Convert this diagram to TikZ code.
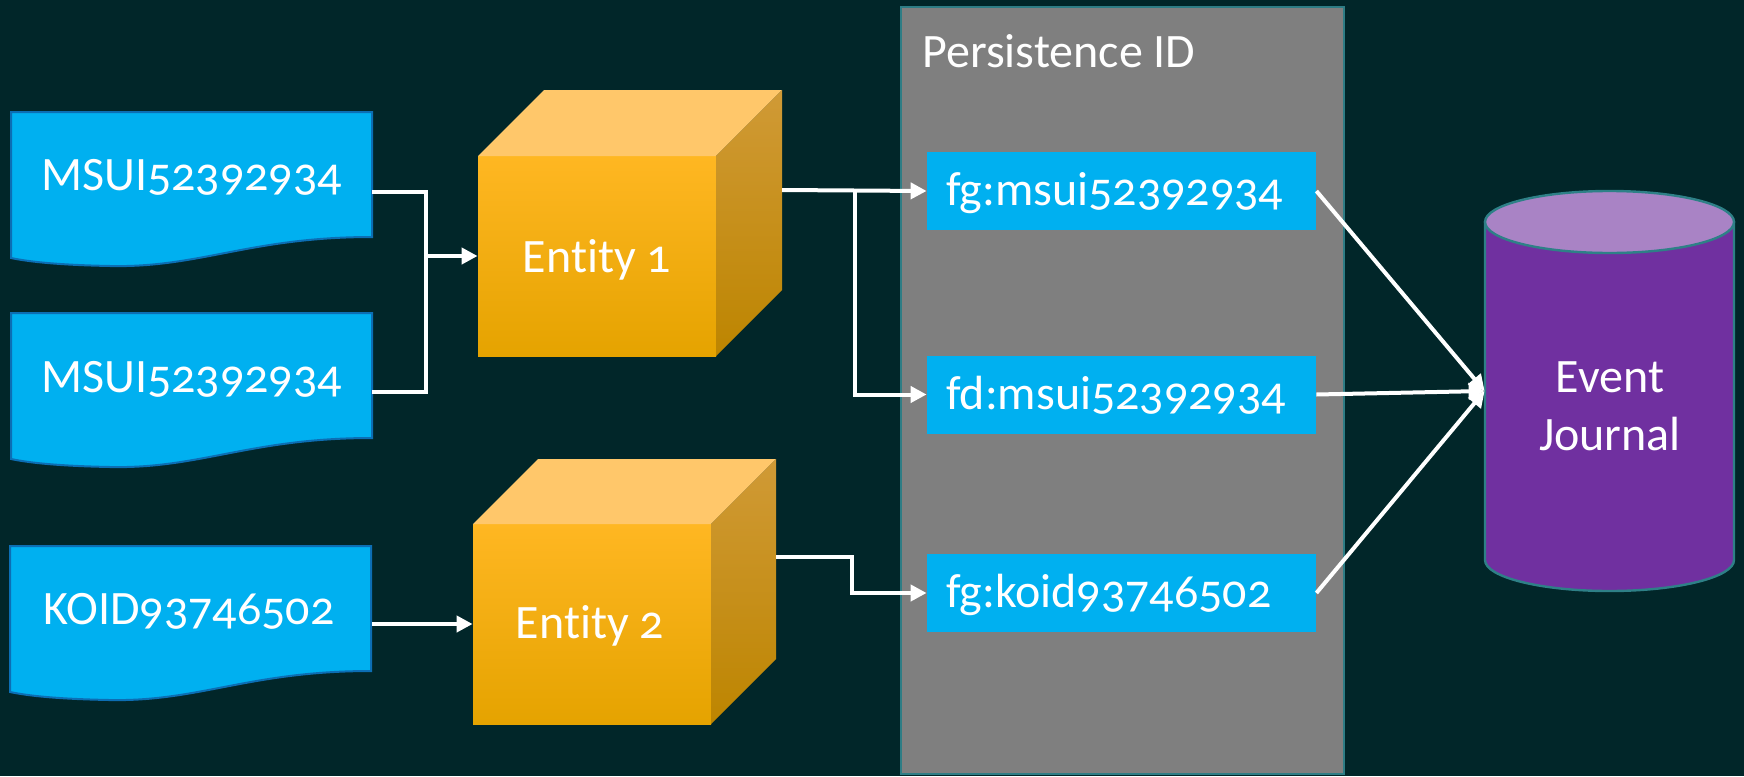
\documentclass[tikz,border=0pt]{standalone}
\usepackage{fontspec}
\setmainfont[Numbers=OldStyle,Ligatures=NoCommon]{Carlito}
\usetikzlibrary{arrows.meta,calc}
\definecolor{bg}{RGB}{1,38,41}
\definecolor{docblue}{RGB}{0,176,240}
\definecolor{docedge}{RGB}{12,110,180}
\definecolor{grp}{RGB}{127,127,127}
\definecolor{grpedge}{RGB}{46,125,133}
\definecolor{cubeA}{RGB}{255,183,34}
\definecolor{cubeB}{RGB}{229,163,0}
\definecolor{cubetop}{RGB}{255,199,106}
\definecolor{cubesideA}{RGB}{208,154,54}
\definecolor{cubesideB}{RGB}{189,133,0}
\definecolor{cylbody}{RGB}{112,48,160}
\definecolor{cyltop}{RGB}{169,131,197}
\definecolor{cyledge}{RGB}{46,128,135}
\newcommand\mydoc[2]{%
  \begin{scope}[shift={(#1,#2)}]
    \path[docshape] (0,0) -- (361,0) -- (361,125)
      .. controls (239,125) and (189,156) .. (99,154)
      .. controls (49,153) and (19,150) .. (0,146) -- cycle;
  \end{scope}}
\newcommand\mycube[5]{% x0 y0 w h d
  \path[shading=axis, top color=cubeA, bottom color=cubeB]
    (#1,#2) rectangle ++(#3,#4);
  \path[fill=cubetop] (#1,#2) -- ++(#5,-#5) -- ++(#3,0) -- ++(-#5,#5) -- cycle;
  \path[shading=axis, top color=cubesideA, bottom color=cubesideB]
    ($(#1,#2)+(#3,0)$) -- ++(#5,-#5) -- ++(0,#4) -- ++(-#5,#5) -- cycle;}
\begin{document}
\begin{tikzpicture}[x=0.5pt,y=-0.5pt,
  docshape/.style={fill=docblue, draw=docedge, line width=1pt},
  lbl/.style={text=white, font=\fontsize{24}{28}\selectfont, inner sep=0pt},
  anchorbox/.style={inner sep=0pt, minimum width=#1},
  pidbox/.style={fill=docblue, inner sep=0pt, minimum width=194.5pt, minimum height=39pt},
  link/.style={draw=white, line width=2pt},
  arr/.style={link, -{Triangle[length=8pt,width=8pt]}}]
\fill[bg] (0,0) rectangle (1744,776);
\useasboundingbox (0,0) rectangle (1744,776);

% documents
\mydoc{11}{112}
\mydoc{11}{313}
\mydoc{10}{546}
\node[anchorbox=180.5pt, minimum height=80pt] (d1) at (191.5,192) {};
\node[anchorbox=180.5pt, minimum height=80pt] (d2) at (191.5,392) {};
\node[anchorbox=181pt, minimum height=80pt] (d3) at (191,624) {};
\node[lbl, anchor=base] (t1) at (191.5,190) {MSUI52392934};
\node[lbl, anchor=base] (t2) at (191.5,392) {MSUI52392934};
\node[lbl, anchor=base] (t3) at (189,624) {KOID93746502};

% cubes
\mycube{478}{156}{238}{200}{66}
\mycube{473}{524}{238}{200}{65}
\node[anchorbox=119pt, minimum height=100pt] (e1) at (597,256) {};
\node[anchorbox=119pt, minimum height=100pt] (e2) at (592,624) {};
\node[lbl, anchor=base] (et1) at (597,272) {Entity 1};
\node[lbl, anchor=base] (et2) at (590,638) {Entity 2};
\coordinate (e1o) at (782,190);
\coordinate (e2o) at (776,557);

% persistence group
\path[fill=grp, draw=grpedge, line width=1pt] (901,7) rectangle (1344,774);
\node[lbl, anchor=base west] (ptitle) at (922,67) {Persistence ID};
\node[pidbox] (p1) at (1121.5,191) {};
\node[pidbox] (p2) at (1121.5,394.5) {};
\node[pidbox] (p3) at (1121.5,593) {};
\node[lbl, anchor=base west] (pt1) at (946,205) {fg:msui52392934};
\node[lbl, anchor=base west] (pt2) at (946,409) {fd:msui52392934};
\node[lbl, anchor=base west] (pt3) at (946,607) {fg:koid93746502};

% cylinder
\path[fill=cylbody, draw=cyledge, line width=1.2pt]
  (1485,222) -- (1485,560) arc[start angle=180, end angle=360, x radius=62.25pt, y radius=15.5pt]
  -- (1734,222) -- cycle;
\path[fill=cyltop, draw=cyledge, line width=1.2pt]
  (1609.5,222) ellipse [x radius=62.25pt, y radius=15.5pt];
\node[anchorbox=124.5pt, minimum height=100pt] (ej) at (1609.5,391) {};
\node[lbl, anchor=base] (ejt1) at (1610,392) {Event};
\node[lbl, anchor=base] (ejt2) at (1610,450) {Journal};

% connectors
\coordinate (j1) at (426,256);
\draw[link] (d1.east) -| (j1);
\draw[link] (d2.east) -| (j1);
\draw[arr] (j1) -- (e1.west);
\draw[arr] (d3.east) -- (e2.west);
\coordinate (j2) at (855,191);
\draw[arr] (e1o) -- (p1.west);
\draw[arr] (j2) |- (p2.west);
\coordinate (j3) at (852,557);
\draw[arr] (e2o) -- (j3) |- (p3.west);
\draw[arr] (p1.east) -- (ej.west);
\draw[arr] (p2.east) -- (ej.west);
\draw[arr] (p3.east) -- (ej.west);
\end{tikzpicture}
\end{document}
